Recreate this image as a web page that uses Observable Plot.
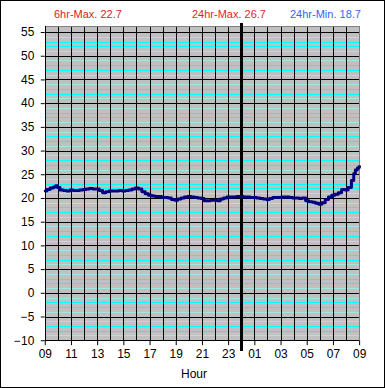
<!DOCTYPE html>
<html>
<head>
<meta charset="utf-8">
<script src="https://cdn.jsdelivr.net/npm/d3@7"></script>
<script src="https://cdn.jsdelivr.net/npm/@observablehq/plot@0.6"></script>
<style>
  html, body { margin: 0; padding: 0; background: #fff; }
  #wrap { position: relative; width: 385px; height: 388px; box-sizing: border-box; border: 1px solid #000; overflow: hidden; font-family: "Liberation Sans", Arial, sans-serif; }
  #wrap svg { position: absolute; left: -1px; top: -1px; }
  .hdr { position: absolute; top: 7px; font-size: 11px; white-space: nowrap; }
  #xlab { position: absolute; left: 180px; top: 366px; font-size: 12px; }
</style>
</head>
<body>
<div id="wrap">
  <div class="hdr" style="left:53px;color:#dd2020">6hr-Max. 22.7</div>
  <div class="hdr" style="left:191px;color:#ee1c1c">24hr-Max. 26.7</div>
  <div class="hdr" style="left:289px;color:#3366ee">24hr-Min. 18.7</div>
  <div id="xlab">Hour</div>
</div>
<script>
// hours since 09:00
const hours = [0,0.25,0.5,0.75,0.85,1,1.25,1.5,1.75,2,2.25,2.5,2.75,3,3.25,3.5,3.75,4,4.25,4.5,4.75,5,5.25,5.5,5.75,6,6.25,6.5,6.75,7,7.25,7.5,7.75,8,8.25,8.5,8.75,9,9.25,9.5,9.75,10,10.25,10.5,10.75,11,11.25,11.5,11.75,12,12.25,12.5,12.75,13,13.25,13.5,13.75,14,14.25,14.5,14.75,15,15.25,15.5,15.75,16,16.25,16.5,16.75,17,17.25,17.5,17.75,18,18.25,18.5,18.75,19,19.25,19.5,19.75,20,20.25,20.5,20.75,21,21.25,21.5,21.75,22,22.25,22.5,22.75,23,23.25,23.5,23.6,23.75,23.9,24];
const temps = [21.6,21.9,22.2,22.4,22.7,22.3,21.8,21.7,21.6,21.8,21.7,21.7,21.8,21.9,22.0,22.1,22.0,22.0,21.7,21.2,21.4,21.6,21.6,21.6,21.7,21.6,21.7,21.8,22.0,22.2,22.0,21.4,21.0,20.7,20.5,20.4,20.4,20.2,20.2,20.1,19.8,19.6,19.9,20.1,20.3,20.4,20.3,20.2,20.1,20.0,19.5,19.5,19.6,19.6,19.5,19.9,20.1,20.3,20.3,20.3,20.4,20.4,20.3,20.3,20.2,20.2,20.1,20.0,19.9,19.8,20.0,20.2,20.2,20.2,20.3,20.3,20.2,20.1,20.1,20.0,20.1,19.5,19.3,19.2,19.0,18.8,19.1,19.8,20.3,20.7,20.9,21.2,21.9,21.8,22.3,23.8,25.2,26.0,26.4,26.7];
const yMajor = [-10,-5,0,5,10,15,20,25,30,35,40,45,50,55];
const yMinorBright = d3.range(-9, 56).filter(v => { const m = ((v % 5) + 5) % 5; return m === 2 || m === 3; });
const yMinorPale = d3.range(-9, 56).filter(v => { const m = ((v % 5) + 5) % 5; return m === 1 || m === 4; });
const hourGrid = d3.range(0, 25);
const hourTicks = d3.range(0, 25, 2);
const midnight = [15];

const data = hours.map((h, i) => ({h, t: temps[i]}));

const chart = Plot.plot({
  width: 385,
  height: 388,
  marginLeft: 45,
  marginRight: 24,
  marginTop: 26,
  marginBottom: 46,
  style: {fontFamily: "Liberation Sans, Arial, sans-serif", fontSize: "12px", color: "#000", background: "transparent"},
  x: {domain: [0, 24], label: null},
  y: {domain: [-10, 56.3], label: null},
  marks: [
    Plot.frame({fill: "#c0c0c0", stroke: null}),
    Plot.ruleY(yMinorPale, {stroke: "#9fe6e6", strokeWidth: 1, shapeRendering: "crispEdges"}),
    Plot.ruleY(yMinorBright, {stroke: "#00ffff", strokeWidth: 1, shapeRendering: "crispEdges"}),
    Plot.ruleY(yMajor, {stroke: "#000", strokeWidth: 1, shapeRendering: "crispEdges"}),
    Plot.ruleX(hourGrid, {stroke: "#000", strokeWidth: 1, shapeRendering: "crispEdges"}),
    Plot.ruleY([56.3], {stroke: "#808080", shapeRendering: "crispEdges"}),
    Plot.ruleX([24], {stroke: "#808080", shapeRendering: "crispEdges"}),
    Plot.ruleX(midnight, {y1: -12.2, y2: 56.8, stroke: "#000", strokeWidth: 3, clip: false, shapeRendering: "crispEdges"}),
    Plot.line(data, {x: "h", y: "t", stroke: "#000080", strokeWidth: 3, curve: "step"}),
    Plot.axisY(yMajor, {tickSize: 4, tickPadding: 7, fontSize: 12}),
    Plot.axisX(hourTicks, {tickSize: 5, tickPadding: 4, fontSize: 12, tickFormat: d => String((9 + d) % 24).padStart(2, "0")}),
    Plot.ruleX([0], {stroke: "#000", shapeRendering: "crispEdges"}),
    Plot.ruleY([-10], {stroke: "#000", shapeRendering: "crispEdges"})
  ]
});
document.getElementById("wrap").prepend(chart);
</script>
</body>
</html>
